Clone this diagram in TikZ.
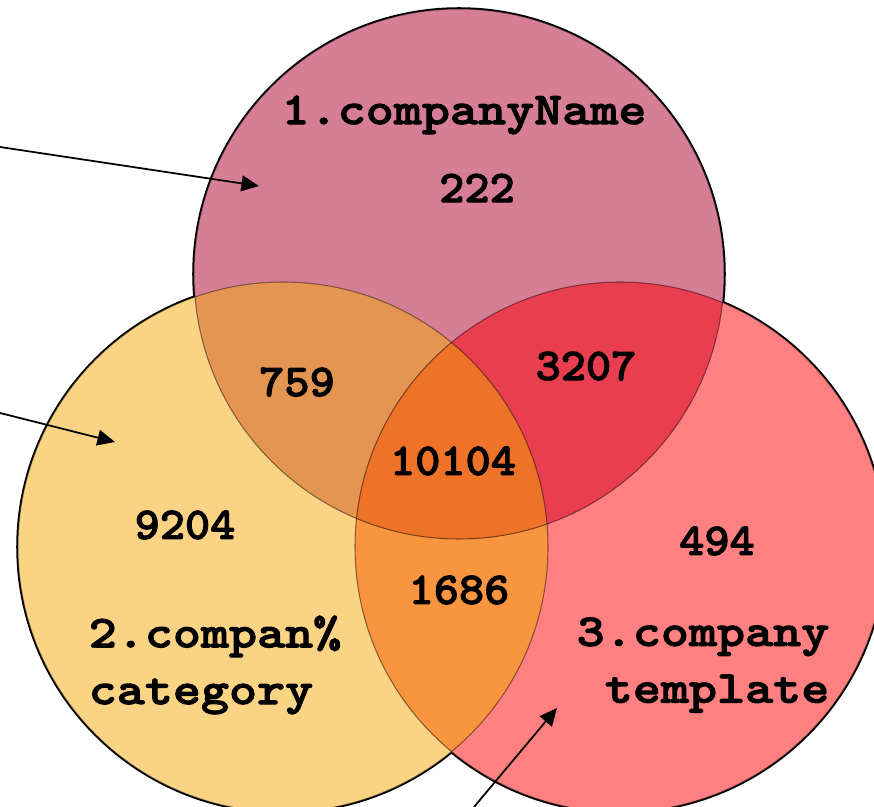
\documentclass[tikz,border=0pt]{standalone}
\usepackage{fontspec}
\newfontfamily\vennfont[Extension=.otf, FakeStretch=1.17, FakeBold=2.2]{lmmonolt10-bold}
\newfontfamily\vennnumfont[Extension=.otf, FakeStretch=1.05, FakeBold=2.2]{lmmonolt10-bold}
\usepackage{tikz}
\usetikzlibrary{arrows.meta,positioning}
\definecolor{setone}{RGB}{215,126,151}
\definecolor{settwo}{RGB}{251,211,132}
\definecolor{setthree}{RGB}{255,128,128}
\definecolor{setonetwo}{RGB}{229,149,82}
\definecolor{setonethree}{RGB}{232,62,80}
\definecolor{settwothree}{RGB}{249,149,62}
\definecolor{setall}{RGB}{238,114,40}
\tikzset{vennlabel/.style = {font=\vennfont\fontsize{26}{32.3}\selectfont, inner sep=0pt}}
\tikzset{vennnum/.style = {font=\vennnumfont\fontsize{26}{28}\selectfont, inner sep=0pt}}
\tikzset{pointer/.style={line width=1pt,-{Triangle[length=10pt,width=9pt]}}}

\begin{document}
\begin{tikzpicture}
	\useasboundingbox (0,0) rectangle (17.48,-16.14);
	\def\vennr{5.3}
	\coordinate (c1) at (9.18,-5.48);
	\coordinate (c2) at (5.66,-10.94);
	\coordinate (c3) at (12.40,-10.94);
	% outer rims, half of them hidden by the fills
	\foreach \s in {c1,c2,c3}
		\draw[line width=2pt] (\s) circle (\vennr);
	\fill[setone] (c1) circle (\vennr);
	\fill[settwo] (c2) circle (\vennr);
	\fill[setthree] (c3) circle (\vennr);
	\begin{scope}
		\clip (c2) circle (\vennr);
		\fill[settwothree] (c3) circle (\vennr);
	\end{scope}
	\begin{scope}
		\clip (c1) circle (\vennr);
		\fill[setonetwo] (c2) circle (\vennr);
		\fill[setonethree] (c3) circle (\vennr);
		\clip (c2) circle (\vennr);
		\fill[setall] (c3) circle (\vennr);
	\end{scope}
	% inner arcs
	\foreach \s in {c1,c2,c3}
		\draw[draw opacity=.45, line width=.6pt] (\s) circle (\vennr);
	% set names
	\node[vennlabel] (name1) at (9.28,-2.30) {1.companyName};
	\node[vennlabel, align=left] (name2) at (4.30,-13.30) {2.compan\%\\category};
	\node[vennlabel, align=right] (name3) at (14.06,-13.30) {3.company\\template};
	% counts
	\node[vennnum] (only1) at (9.54,-3.76) {222};
	\node[vennnum] (only2) at (3.70,-10.50) {9204};
	\node[vennnum] (only3) at (14.34,-10.82) {494};
	\node[vennnum] (both12) at (5.94,-7.64) {759};
	\node[vennnum] (both13) at (11.72,-7.32) {3207};
	\node[vennnum] (both23) at (9.18,-11.80) {1686};
	\node[vennnum] (all) at (9.06,-9.22) {10104};
	% pointers
	\coordinate (tail1) at (0,-2.94);
	\coordinate (head1) at (5.18,-3.72);
	\coordinate (tail2) at (0,-8.26);
	\coordinate (head2) at (2.30,-8.84);
	\coordinate (tail3) at (9.48,-16.14);
	\coordinate (head3) at (11.14,-14.16);
	\draw[pointer] (tail1) -- (head1);
	\draw[pointer] (tail2) -- (head2);
	\draw[pointer] (tail3) -- (head3);
\end{tikzpicture}
\end{document}
